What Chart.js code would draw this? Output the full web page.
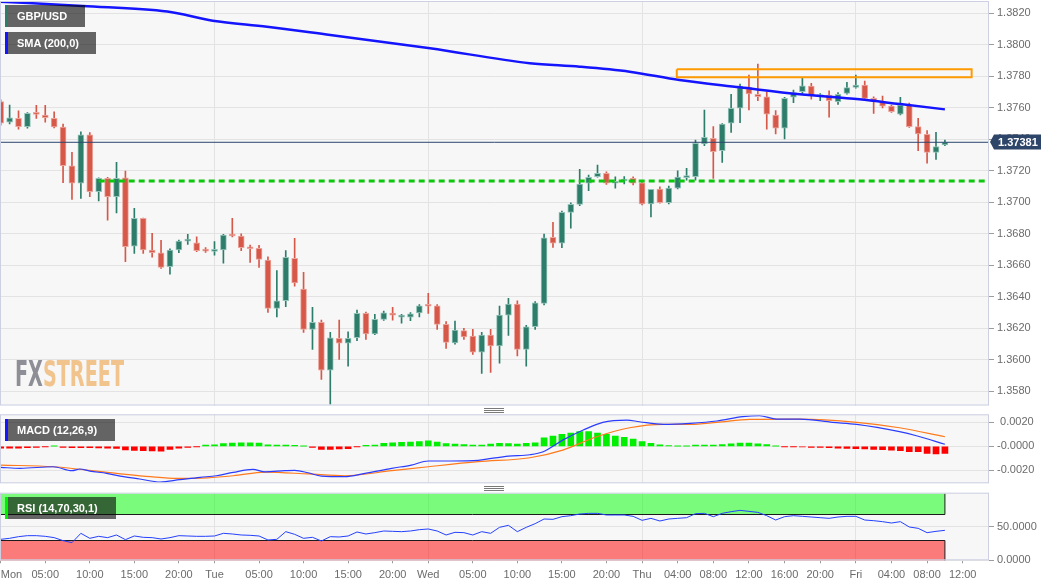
<!DOCTYPE html>
<html>
<head>
<meta charset="utf-8">
<script src="https://cdn.jsdelivr.net/npm/chart.js@4.4.1/dist/chart.umd.min.js"></script>
<style>
  html, body { margin: 0; padding: 0; background: #fff; }
  #wrap { position: relative; width: 1060px; height: 587px; overflow: hidden; font-family: "Liberation Sans", Arial, sans-serif; }
  canvas { position: absolute; left: 0; }
  .tag { position: absolute; left: 5px; height: 22px; line-height: 22px; background: rgba(10,10,10,0.62); color: #fff;
         font-weight: bold; font-size: 11px; padding-left: 9px; box-sizing: border-box; white-space: nowrap; }
  .grip { position: absolute; left: 484px; width: 20px; height: 5px;
          background: repeating-linear-gradient(to bottom, #7a7a7a 0 1px, transparent 1px 2px); }
</style>
</head>
<body>
<div id="wrap">
  <canvas id="priceChart" width="1060" height="406" style="top:0"></canvas>
  <canvas id="macdChart" width="1060" height="70" style="top:414px"></canvas>
  <canvas id="rsiChart" width="1060" height="95" style="top:492px"></canvas>
  <div class="tag" style="top:5px;width:80px;border-left:3px solid #2e7d6b">GBP/USD</div>
  <div class="tag" style="top:32px;width:91px;border-left:3px solid #1414ff">SMA (200,0)</div>
  <div class="tag" style="top:419px;width:110px;border-left:3px solid #1414ff">MACD (12,26,9)</div>
  <div class="tag" style="top:497px;width:111px;border-left:3px solid #00ee00">RSI (14,70,30,1)</div>
  <div class="grip" style="top:408px"></div>
  <div class="grip" style="top:486px"></div>
</div>
<script>
// hourly candles, Mon 00:00 .. Fri 10:00
const opens = [1.37639,1.37508,1.37533,1.37480,1.37565,1.37554,1.37533,1.37478,1.37232,1.37121,
  1.37429,1.37067,1.37152,1.37035,1.37156,1.36722,1.36898,1.36697,1.36680,1.36591,
  1.36697,1.36754,1.36743,1.36695,1.36688,1.36697,1.36792,1.36786,1.36712,1.36708,
  1.36633,1.36327,1.36375,1.36644,1.36449,1.36193,1.36238,1.35935,1.36136,1.36105,
  1.36140,1.36295,1.36164,1.36257,1.36297,1.36271,1.36271,1.36298,1.36345,1.36343,
  1.36225,1.36108,1.36185,1.36151,1.36049,1.36157,1.36089,1.36284,1.36354,1.36066,
  1.36210,1.36358,1.36778,1.36740,1.36936,1.36987,1.37121,1.37162,1.37184,1.37121,
  1.37135,1.37152,1.37124,1.36989,1.37084,1.36997,1.37089,1.37156,1.37162,1.37370,
  1.37406,1.37328,1.37502,1.37597,1.37730,1.37686,1.37670,1.37554,1.37470,1.37667,
  1.37702,1.37738,1.37671,1.37681,1.37639,1.37692,1.37730,1.37745,1.37660,1.37639,
  1.37611,1.37559,1.37618,1.37480,1.37432,1.37317,1.37364];
const highs = [1.37650,1.37618,1.37580,1.37570,1.37616,1.37616,1.37575,1.37497,1.37317,1.37448,
  1.37442,1.37155,1.37158,1.37254,1.37199,1.36962,1.36900,1.36803,1.36759,1.36705,
  1.36760,1.36797,1.36781,1.36712,1.36750,1.36797,1.36898,1.36800,1.36729,1.36727,
  1.36654,1.36566,1.36693,1.36771,1.36555,1.36333,1.36252,1.36174,1.36252,1.36178,
  1.36316,1.36303,1.36289,1.36310,1.36333,1.36289,1.36300,1.36350,1.36422,1.36350,
  1.36242,1.36246,1.36200,1.36193,1.36174,1.36193,1.36341,1.36390,1.36375,1.36219,
  1.36369,1.36798,1.36873,1.36945,1.36997,1.37209,1.37173,1.37237,1.37194,1.37162,
  1.37163,1.37162,1.37130,1.37082,1.37099,1.37103,1.37200,1.37216,1.37395,1.37586,
  1.37480,1.37500,1.37686,1.37751,1.37808,1.37878,1.37702,1.37582,1.37667,1.37713,
  1.37787,1.37755,1.37690,1.37708,1.37697,1.37762,1.37808,1.37770,1.37670,1.37675,
  1.37618,1.37667,1.37630,1.37533,1.37455,1.37444,1.37395];
const lows = [1.37490,1.37497,1.37465,1.37470,1.37533,1.37508,1.37472,1.37124,1.37019,1.37025,
  1.37035,1.37008,1.36887,1.36932,1.36623,1.36676,1.36676,1.36651,1.36581,1.36543,
  1.36680,1.36733,1.36686,1.36682,1.36665,1.36613,1.36781,1.36693,1.36619,1.36587,
  1.36301,1.36273,1.36337,1.36468,1.36174,1.36066,1.35876,1.35719,1.36003,1.35960,
  1.36121,1.36130,1.36160,1.36250,1.36252,1.36232,1.36248,1.36273,1.36295,1.36193,
  1.36073,1.36100,1.36130,1.36035,1.35914,1.35920,1.35978,1.36155,1.36024,1.35960,
  1.36193,1.36348,1.36714,1.36712,1.36835,1.36978,1.37074,1.37159,1.37114,1.37089,
  1.37116,1.37110,1.36983,1.36908,1.36994,1.36990,1.37085,1.37141,1.37141,1.37360,
  1.37152,1.37254,1.37444,1.37505,1.37586,1.37645,1.37465,1.37434,1.37402,1.37632,
  1.37692,1.37654,1.37645,1.37540,1.37622,1.37686,1.37724,1.37654,1.37565,1.37600,
  1.37571,1.37554,1.37476,1.37328,1.37248,1.37273,1.37360];
const closes = [1.37502,1.37537,1.37480,1.37565,1.37558,1.37537,1.37478,1.37232,1.37121,1.37429,
  1.37067,1.37152,1.37035,1.37152,1.36718,1.36898,1.36697,1.36680,1.36587,1.36697,
  1.36754,1.36760,1.36693,1.36690,1.36693,1.36792,1.36786,1.36712,1.36705,1.36638,
  1.36327,1.36375,1.36651,1.36489,1.36193,1.36238,1.35935,1.36140,1.36105,1.36136,
  1.36295,1.36164,1.36257,1.36299,1.36283,1.36282,1.36292,1.36343,1.36340,1.36225,
  1.36111,1.36189,1.36146,1.36049,1.36157,1.36089,1.36284,1.36354,1.36066,1.36210,
  1.36362,1.36775,1.36740,1.36936,1.36987,1.37116,1.37159,1.37184,1.37121,1.37130,
  1.37148,1.37121,1.36989,1.37082,1.36997,1.37091,1.37160,1.37169,1.37375,1.37413,
  1.37321,1.37497,1.37597,1.37738,1.37688,1.37670,1.37559,1.37470,1.37660,1.37696,
  1.37740,1.37675,1.37677,1.37645,1.37686,1.37728,1.37745,1.37660,1.37639,1.37611,
  1.37575,1.37618,1.37480,1.37434,1.37317,1.37353,1.37381];

// SMA(200) read at a few hours
const smaHours  = [0, 9.2, 18.7, 23.8, 29.9, 37, 48.2, 59.4, 65, 70.6, 76.2, 83, 89.7, 96.4, 100.9, 106];
const smaValues = [1.38274, 1.38246, 1.38211, 1.38153, 1.38115, 1.38062, 1.37978, 1.37883, 1.37861,
  1.37829, 1.37776, 1.37730, 1.37686, 1.37654, 1.37624, 1.37590];

const supportLevel = 1.37135;
const supportFrom = 11;
const zoneLow = 1.37794, zoneHigh = 1.37844;
const zoneFrom = 75.9, zoneTo = 109;

// MACD (12,26,9)
const macdHist = [-0.00015,-0.00015,-0.00015,-0.00012,-0.0001,-0.00003,0.00001,-0.00008,-0.00012,-0.00012,
  -0.00012,-0.00013,-0.00015,-0.00018,-0.0003,-0.00033,-0.00036,-0.00038,-0.0004,-0.00025,
  -0.00015,-0.0001,-0.00002,0.0001,0.00012,0.00022,0.00028,0.0003,0.0003,0.00028,
  0.00012,0.0001,0.0001,0.00008,0.00001,-0.0001,-0.00025,-0.00025,-0.00022,-0.0002,
  -0.00002,0.00008,0.0001,0.00025,0.0003,0.00033,0.00036,0.0004,0.00045,0.00035,
  0.00022,0.00018,0.00015,0.0001,0.0001,0.00018,0.00025,0.00022,0.00018,0.00025,
  0.0003,0.0007,0.00086,0.001,0.0011,0.00122,0.00122,0.0011,0.001,0.00086,
  0.00075,0.0006,0.0004,0.00025,0.00012,0.00006,0.00002,0.00001,0.0001,0.0001,
  0.0001,0.00015,0.0002,0.00028,0.00028,0.0002,0.00014,0.00002,-0.00002,-0.00003,
  -0.00005,-0.00008,-0.0001,-0.00012,-0.00015,-0.00017,-0.0002,-0.00022,-0.00025,-0.00028,
  -0.00031,-0.00036,-0.00045,-0.00045,-0.00058,-0.00064,-0.00058];
const macdHours = [0, 2.2, 5.9, 8, 8.9, 10, 11.9, 13.8, 15.6, 17.9, 20.1, 22.4, 24.2, 26.1, 28.3, 29.7,
  31.9, 33, 34.5, 36, 38.6, 40.9, 43.9, 46.1, 48, 50.6, 53.6, 55.1, 57, 59.4, 60.9, 63.1, 65.4, 67.6,
  70.3, 71.7, 74.4, 77.4, 80.4, 83.3, 85.2, 87.1, 89.7, 93.4, 96.1, 100.9, 102.8, 106];
const macdValues = [-0.00175, -0.00183, -0.0017, -0.00203, -0.00189, -0.00206, -0.00225, -0.00253, -0.00272,
  -0.00297, -0.00278, -0.00258, -0.00245, -0.00217, -0.00192, -0.00212, -0.00203, -0.002, -0.0022, -0.00248,
  -0.00253, -0.00225, -0.00183, -0.00156, -0.00122, -0.00122, -0.00117, -0.001, -0.00081, -0.0007, -0.00045,
  0.00052, 0.00136, 0.002, 0.00219, 0.00205, 0.00183, 0.00192, 0.00211, 0.00247, 0.00255, 0.00227, 0.00227,
  0.002, 0.00183, 0.00122, 0.00088, 0.00017];
const signalHours = [0, 5.9, 13, 16.8, 19.8, 23.2, 26.1, 29.7, 34.5, 38.6, 43.9, 48, 53.6, 59.4, 63.1,
  66.9, 70.6, 74.4, 77.4, 80.4, 84.1, 89.7, 96.1, 100.9, 106];
const signalValues = [-0.00156, -0.0017, -0.00225, -0.00253, -0.00267, -0.00262, -0.00245, -0.00215, -0.0023,
  -0.00245, -0.00203, -0.0017, -0.00128, -0.00095, -0.00031, 0.0008, 0.00155, 0.00183, 0.00183, 0.002,
  0.00225, 0.00227, 0.002, 0.00155, 0.0008];

// RSI (14,70,30)
const rsiValues = [31.5,33,35.5,37,37,36,34,29.5,26.5,40.5, 33,36,34,38,31,36.5,34.5,34,32,34,
  37,36.5,36,36,36.5,40.5,39.5,38,37.5,36.5, 30.5,31.5,43,39,33,34.5,29,35.5,35,36.5,
  42.5,39.5,41.5,44,43.5,43,44,46,47,44, 38,42,41.5,38,43,40.5,49.5,52.5,43,49.5,
  55,62,61.5,65.5,67,69.5,70.5,70.5,68,68, 68,66,60,63,59,62,63,64,70,70.5,
  65.5,70.5,73,75,73.5,72,67,60.5,65.5,67, 66,65,64,63,65,66,66,60.5,59.5,58,
  56,58,50,48,41.5,43.5,45];
const rsiUpper = 70, rsiLower = 30;

// axes
const xMin = -0.08, xMax = 110.95;
const dayHours = [24, 48, 72, 96];
const xTickHours = [0, 5, 10, 15, 20, 24, 29, 34, 39, 44, 48, 53, 58, 63, 68, 72, 76, 80, 84, 88, 92, 96, 100, 104, 108];
const xTickLabels = ['Mon','05:00','10:00','15:00','20:00','Tue','05:00','10:00','15:00','20:00','Wed','05:00','10:00',
  '15:00','20:00','Thu','04:00','08:00','12:00','16:00','20:00','Fri','04:00','08:00','12:00'];
const priceTicks = [1.358, 1.360, 1.362, 1.364, 1.366, 1.368, 1.370, 1.372, 1.374, 1.376, 1.378, 1.380, 1.382];
const macdTicks = [-0.002, 0, 0.002];
const macdTickLabels = ['-0.0020', '-0.0000', ' 0.0020'];
const rsiTicks = [0, 50];
const rsiTickLabels = ['0.0000', '50.0000'];

Chart.defaults.font.family = '"Liberation Sans", Arial, sans-serif';
Chart.defaults.font.size = 11;

const UP = '#2e7d6b', DOWN = '#d65849';
const hours = closes.map((c, k) => k);
const isUp = closes.map((c, k) => c >= opens[k]);
const lastPrice = closes[closes.length - 1];

const panel = {
  id: 'panel',
  beforeDraw(chart) {
    const { ctx, chartArea: a } = chart;
    ctx.save();
    ctx.fillStyle = '#ffffff';
    ctx.fillRect(0, 0, chart.width, chart.height);
    ctx.fillStyle = '#f7f7f7';
    ctx.fillRect(a.left, a.top, a.right - a.left, a.bottom - a.top);
    ctx.restore();
  },
  afterDraw(chart) {
    const { ctx, chartArea: a } = chart;
    ctx.save();
    ctx.strokeStyle = '#ccd0e2';
    ctx.lineWidth = 1;
    ctx.strokeRect(a.left + 0.5, a.top + 0.5, a.right - a.left - 1, a.bottom - a.top - 1);
    ctx.restore();
  }
};

function dayGridX(extra) {
  return Object.assign({
    type: 'linear', min: xMin, max: xMax, offset: false,
    grid: { offset: false, color: '#e3e3e3', drawTicks: false },
    border: { display: false },
    ticks: { display: false },
    afterBuildTicks: s => { s.ticks = dayHours.map(v => ({ value: v })); },
    afterFit: s => { s.height = 0; s.paddingLeft = 0; s.paddingRight = 0; }
  }, extra || {});
}

function rightY(min, max, ticks, labels) {
  return {
    position: 'right', min: min, max: max,
    grid: { color: '#e3e3e3', tickColor: '#9c9c9c', tickLength: 5 },
    border: { display: false },
    ticks: { color: '#6b6b6b', padding: 3, callback: (v, i) => labels[i] },
    afterBuildTicks: s => { s.ticks = ticks.map(v => ({ value: v })); },
    afterFit: s => { s.width = 71; s.paddingTop = 0; s.paddingBottom = 0; }
  };
}

// Price chart
const watermark = {
  id: 'watermark',
  beforeDatasetsDraw(chart) {
    const ctx = chart.ctx;
    ctx.save();
    ctx.font = 'bold 36px "Liberation Sans Narrow", "DejaVu Sans Condensed", sans-serif';
    const wFx = ctx.measureText('FX').width;
    const wAll = ctx.measureText('FXSTREET').width;
    ctx.translate(15, 386);
    ctx.scale(109 / wAll, 1);
    ctx.textBaseline = 'alphabetic';
    ctx.fillStyle = '#8e8f96';
    ctx.fillText('FX', 0, 0);
    ctx.fillStyle = '#f1c48e';
    ctx.fillText('STREET', wFx, 0);
    ctx.restore();
  }
};

const priceTag = {
  id: 'priceTag',
  afterDraw(chart) {
    const ctx = chart.ctx;
    const y = Math.round(chart.scales.y.getPixelForValue(lastPrice));
    const x0 = chart.chartArea.right;
    ctx.save();
    ctx.fillStyle = '#2c4569';
    ctx.beginPath();
    ctx.moveTo(x0 + 1, y);
    ctx.lineTo(x0 + 5, y - 7.5);
    ctx.lineTo(x0 + 52, y - 7.5);
    ctx.lineTo(x0 + 52, y + 7.5);
    ctx.lineTo(x0 + 5, y + 7.5);
    ctx.closePath();
    ctx.fill();
    ctx.fillStyle = '#ffffff';
    ctx.font = 'bold 11px "Liberation Sans", Arial, sans-serif';
    ctx.textBaseline = 'middle';
    ctx.fillText(lastPrice.toFixed(5), x0 + 9, y + 0.5);
    ctx.restore();
  }
};

new Chart(document.getElementById('priceChart'), {
  type: 'bar',
  data: {
    datasets: [{
      label: 'wicks',
      data: hours.map(k => ({ x: k, y: [lows[k], highs[k]] })),
      backgroundColor: isUp.map(u => u ? UP : DOWN),
      barThickness: 1,
      grouped: false,
      order: 5
    }, {
      label: 'GBP/USD',
      data: hours.map(k => ({ x: k, y: [opens[k], closes[k]] })),
      backgroundColor: isUp.map(u => u ? UP : DOWN),
      borderColor: isUp.map(u => u ? '#94c4b9' : '#eca59d'),
      borderWidth: 1,
      borderSkipped: false,
      barThickness: 6,
      minBarLength: 2,
      grouped: false,
      order: 4
    }, {
      type: 'line',
      label: 'SMA (200,0)',
      data: smaHours.map((h, i) => ({ x: h, y: smaValues[i] })),
      borderColor: '#1414ff',
      borderWidth: 2.5,
      pointRadius: 0,
      cubicInterpolationMode: 'monotone',
      order: 2
    }, {
      type: 'line',
      label: 'support',
      data: [{ x: supportFrom, y: supportLevel }, { x: xMax + 1, y: supportLevel }],
      borderColor: '#0cc80c',
      borderWidth: 3,
      borderDash: [6, 4],
      pointRadius: 0,
      order: 1
    }, {
      type: 'line',
      label: 'zone',
      data: [{ x: zoneFrom, y: zoneHigh }, { x: zoneTo, y: zoneHigh }, { x: zoneTo, y: zoneLow },
             { x: zoneFrom, y: zoneLow }, { x: zoneFrom, y: zoneHigh }],
      borderColor: '#ff9a00',
      borderWidth: 2,
      pointRadius: 0,
      order: 1
    }, {
      type: 'line',
      label: 'last',
      data: [{ x: xMin, y: lastPrice }, { x: xMax, y: lastPrice }],
      borderColor: '#2b4670',
      borderWidth: 1,
      pointRadius: 0,
      order: 0
    }]
  },
  options: {
    responsive: false,
    animation: false,
    events: [],
    layout: { padding: { top: 1, bottom: 0.5, left: 0, right: 0 } },
    plugins: { legend: { display: false }, tooltip: { enabled: false } },
    scales: {
      x: dayGridX(),
      y: rightY(1.35710, 1.38278, priceTicks, priceTicks.map(v => v.toFixed(4)))
    }
  },
  plugins: [panel, watermark, priceTag]
});

// MACD chart
new Chart(document.getElementById('macdChart'), {
  type: 'bar',
  data: {
    datasets: [{
      label: 'hist',
      data: hours.map(k => ({ x: k, y: macdHist[k] })),
      backgroundColor: macdHist.map(v => v >= 0 ? '#00ee00' : '#ff0000'),
      barThickness: 6,
      grouped: false,
      order: 3
    }, {
      type: 'line',
      label: 'MACD',
      data: macdHours.map((h, i) => ({ x: h, y: macdValues[i] })),
      borderColor: '#2a3cff',
      borderWidth: 1.2,
      pointRadius: 0,
      cubicInterpolationMode: 'monotone',
      order: 1
    }, {
      type: 'line',
      label: 'Signal',
      data: signalHours.map((h, i) => ({ x: h, y: signalValues[i] })),
      borderColor: '#ff7a1c',
      borderWidth: 1.2,
      pointRadius: 0,
      cubicInterpolationMode: 'monotone',
      order: 2
    }]
  },
  options: {
    responsive: false,
    animation: false,
    events: [],
    layout: { padding: { top: 0.3, bottom: 0.7, left: 0, right: 0 } },
    plugins: { legend: { display: false }, tooltip: { enabled: false } },
    scales: {
      x: dayGridX(),
      y: rightY(-0.00308, 0.00267, macdTicks, macdTickLabels)
    }
  },
  plugins: [panel]
});

// RSI chart
const rsiBands = {
  id: 'rsiBands',
  beforeDatasetsDraw(chart) {
    const { ctx, chartArea: a } = chart;
    const xs = chart.scales.x, ys = chart.scales.y;
    const right = xs.getPixelForValue(hours[hours.length - 1]);
    const gTop = ys.getPixelForValue(100), gBot = Math.round(ys.getPixelForValue(rsiUpper)) + 0.5;
    const rTop = Math.round(ys.getPixelForValue(rsiLower)) + 0.5, rBot = ys.getPixelForValue(0);
    ctx.save();
    ctx.fillStyle = 'rgba(0,255,0,0.5)';
    ctx.fillRect(a.left, gTop, right - a.left, gBot - gTop);
    ctx.fillStyle = 'rgba(255,0,0,0.5)';
    ctx.fillRect(a.left, rTop, right - a.left, rBot - rTop);
    ctx.strokeStyle = '#1b1b1b';
    ctx.lineWidth = 1;
    ctx.beginPath();
    ctx.moveTo(a.left, gBot); ctx.lineTo(right, gBot); ctx.lineTo(right, gTop);
    ctx.moveTo(a.left, rTop); ctx.lineTo(right, rTop); ctx.lineTo(right, rBot);
    ctx.stroke();
    ctx.restore();
  }
};

new Chart(document.getElementById('rsiChart'), {
  type: 'line',
  data: {
    datasets: [{
      label: 'RSI',
      data: hours.map(k => ({ x: k, y: rsiValues[k] })),
      borderColor: '#2440ff',
      borderWidth: 1,
      pointRadius: 0,
      tension: 0
    }]
  },
  options: {
    responsive: false,
    animation: false,
    events: [],
    layout: { padding: { top: 0.7, bottom: 0, left: 0, right: 0 } },
    plugins: { legend: { display: false }, tooltip: { enabled: false } },
    scales: {
      x: {
        type: 'linear', min: xMin, max: xMax, offset: false,
        grid: {
          offset: false, drawTicks: true, tickLength: 3,
          color: c => (c.tick && dayHours.includes(c.tick.value)) ? '#e3e3e3' : 'rgba(0,0,0,0)',
          tickColor: c => (c.index < xTickHours.length) ? '#9c9c9c' : 'rgba(0,0,0,0)'
        },
        border: { display: false },
        ticks: {
          autoSkip: false, maxRotation: 0, minRotation: 0, align: 'inner', padding: 5, color: '#6b6b6b',
          callback: (v, i) => (i < xTickLabels.length ? xTickLabels[i] : '')
        },
        afterBuildTicks: s => { s.ticks = xTickHours.concat([xMax]).map(v => ({ value: v })); },
        afterFit: s => { s.height = 26.7; s.paddingLeft = 0; s.paddingRight = 0; }
      },
      y: rightY(0, 101.5, rsiTicks, rsiTickLabels)
    }
  },
  plugins: [panel, rsiBands]
});
</script>
</body>
</html>
